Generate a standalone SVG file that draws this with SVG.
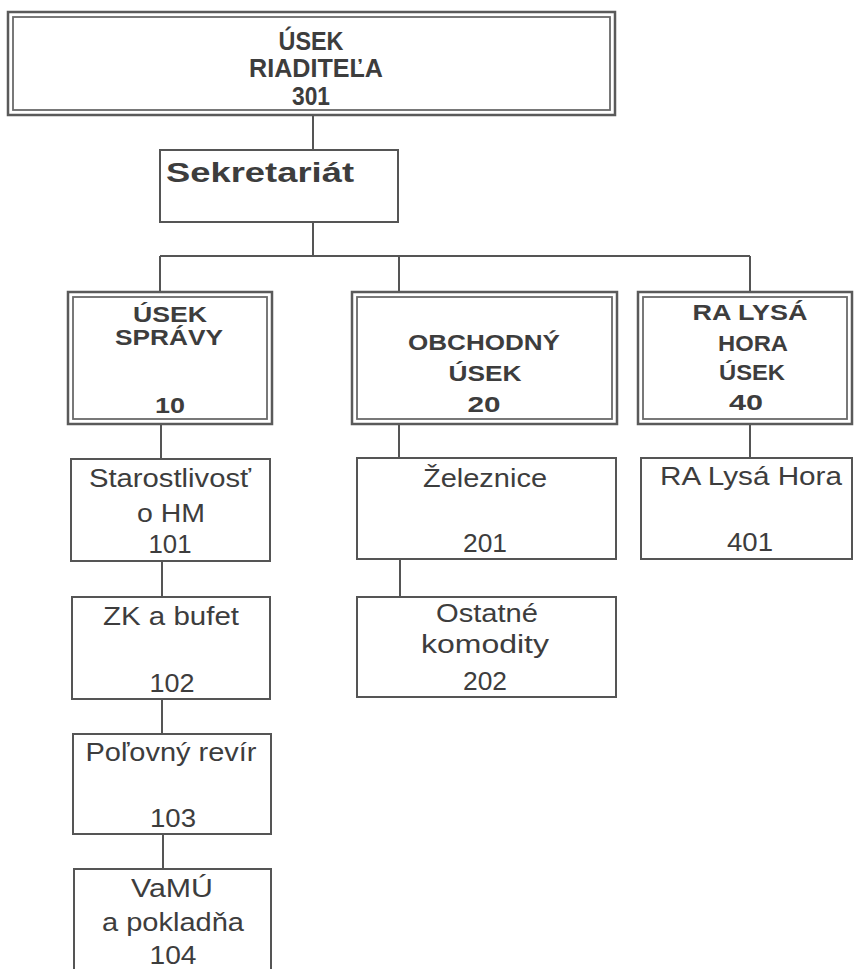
<svg xmlns="http://www.w3.org/2000/svg" width="855" height="969" viewBox="0 0 855 969">
<style>
.o{fill:#fff;stroke:#5a5a5a;stroke-width:2.5}
.i{fill:none;stroke:#6a6a6a;stroke-width:1.8}
.s{fill:#fff;stroke:#555;stroke-width:2}
.c{fill:none;stroke:#555;stroke-width:2}
.b{font-family:"Liberation Sans",Arial,sans-serif;font-weight:bold;font-size:25px;fill:#3d3d3d;text-anchor:middle}
.m{font-size:22px}
.r{font-family:"Liberation Sans",Arial,sans-serif;font-size:26px;fill:#3d3d3d;text-anchor:middle}
</style>
<rect width="855" height="969" fill="#fff"/>
<g id="connectors">
<path class="c" d="M313 115V150M313 222V256M160 256H750M160 256V292M399 256V292M750 256V292"/>
<path class="c" d="M161 424V459M162 561V597M162 699V734M163 834V869"/>
<path class="c" d="M399 424V458M400 559V597M750 424V458"/>
</g>
<g id="n301">
<rect class="o" x="8" y="12" width="607" height="103"/>
<rect class="i" x="13" y="17" width="597" height="93"/>
<text class="b" x="311" y="50" textLength="65" lengthAdjust="spacingAndGlyphs">ÚSEK</text>
<text class="b" x="316" y="77" textLength="134" lengthAdjust="spacingAndGlyphs">RIADITEĽA</text>
<text class="b" x="311" y="105" textLength="38" lengthAdjust="spacingAndGlyphs">301</text>
</g>
<g id="sekretariat">
<rect class="s" x="160" y="150" width="238" height="72"/>
<text class="b" x="260" y="182" style="font-size:28px" textLength="188" lengthAdjust="spacingAndGlyphs">Sekretariát</text>
</g>
<g id="n10">
<rect class="o" x="68" y="292" width="204" height="132"/>
<rect class="i" x="73" y="297" width="194" height="122"/>
<text class="b m" x="170" y="322" textLength="74" lengthAdjust="spacingAndGlyphs">ÚSEK</text>
<text class="b m" x="169" y="345" textLength="108" lengthAdjust="spacingAndGlyphs">SPRÁVY</text>
<text class="b m" x="170" y="413" textLength="30" lengthAdjust="spacingAndGlyphs">10</text>
</g>
<g id="n20">
<rect class="o" x="352" y="292" width="265" height="132"/>
<rect class="i" x="357" y="297" width="255" height="122"/>
<text class="b m" x="484" y="350" textLength="152" lengthAdjust="spacingAndGlyphs">OBCHODNÝ</text>
<text class="b m" x="485" y="381" textLength="73" lengthAdjust="spacingAndGlyphs">ÚSEK</text>
<text class="b m" x="484" y="412" textLength="33" lengthAdjust="spacingAndGlyphs">20</text>
</g>
<g id="n40">
<rect class="o" x="638" y="292" width="214" height="132"/>
<rect class="i" x="643" y="297" width="204" height="122"/>
<text class="b m" x="750" y="320" textLength="115" lengthAdjust="spacingAndGlyphs">RA LYSÁ</text>
<text class="b m" x="753" y="351" textLength="70" lengthAdjust="spacingAndGlyphs">HORA</text>
<text class="b m" x="752" y="380" textLength="66" lengthAdjust="spacingAndGlyphs">ÚSEK</text>
<text class="b m" x="746" y="410" textLength="34" lengthAdjust="spacingAndGlyphs">40</text>
</g>
<g id="n101">
<rect class="s" x="71" y="459" width="199" height="102"/>
<text class="r" x="170" y="487" textLength="162" lengthAdjust="spacingAndGlyphs">Starostlivosť</text>
<text class="r" x="171" y="522" textLength="68" lengthAdjust="spacingAndGlyphs">o HM</text>
<text class="r" x="170" y="553" textLength="43" lengthAdjust="spacingAndGlyphs">101</text>
</g>
<g id="n102">
<rect class="s" x="72" y="597" width="198" height="102"/>
<text class="r" x="171" y="625" textLength="136" lengthAdjust="spacingAndGlyphs">ZK a bufet</text>
<text class="r" x="172" y="692" textLength="45" lengthAdjust="spacingAndGlyphs">102</text>
</g>
<g id="n103">
<rect class="s" x="73" y="734" width="198" height="100"/>
<text class="r" x="171" y="761" textLength="171" lengthAdjust="spacingAndGlyphs">Poľovný revír</text>
<text class="r" x="173" y="827" textLength="46" lengthAdjust="spacingAndGlyphs">103</text>
</g>
<g id="n104">
<rect class="s" x="74" y="869" width="197" height="110"/>
<text class="r" x="172" y="897" textLength="82" lengthAdjust="spacingAndGlyphs">VaMÚ</text>
<text class="r" x="173" y="931" textLength="142" lengthAdjust="spacingAndGlyphs">a pokladňa</text>
<text class="r" x="173" y="964" textLength="47" lengthAdjust="spacingAndGlyphs">104</text>
</g>
<g id="n201">
<rect class="s" x="357" y="458" width="259" height="101"/>
<text class="r" x="485" y="487" textLength="124" lengthAdjust="spacingAndGlyphs">Železnice</text>
<text class="r" x="485" y="552" textLength="44" lengthAdjust="spacingAndGlyphs">201</text>
</g>
<g id="n202">
<rect class="s" x="357" y="597" width="259" height="100"/>
<text class="r" x="487" y="622" textLength="102" lengthAdjust="spacingAndGlyphs">Ostatné</text>
<text class="r" x="485" y="653" textLength="128" lengthAdjust="spacingAndGlyphs">komodity</text>
<text class="r" x="485" y="690" textLength="44" lengthAdjust="spacingAndGlyphs">202</text>
</g>
<g id="n401">
<rect class="s" x="641" y="458" width="211" height="101"/>
<text class="r" x="751" y="485" textLength="182" lengthAdjust="spacingAndGlyphs">RA Lysá Hora</text>
<text class="r" x="750" y="551" textLength="46" lengthAdjust="spacingAndGlyphs">401</text>
</g>
</svg>
